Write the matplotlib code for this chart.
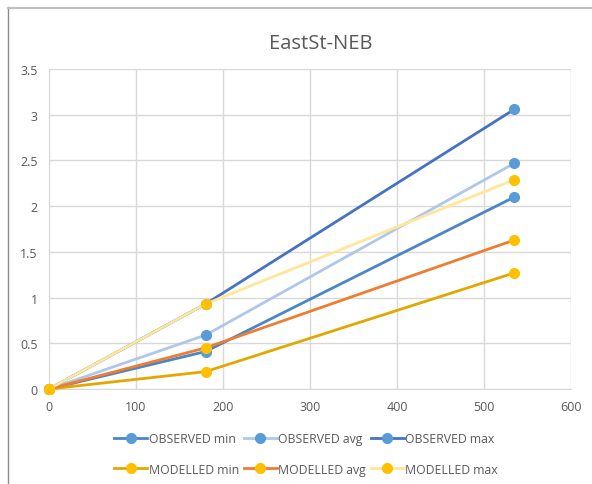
import matplotlib
matplotlib.use("Agg")
import matplotlib.pyplot as plt
from matplotlib.lines import Line2D

plt.rcParams['font.family'] = ['Open Sans', 'DejaVu Sans']

x = [0, 180, 535]
obs_min = [0, 0.41, 2.10]
obs_avg = [0, 0.59, 2.47]
obs_max = [0, 0.93, 3.06]
mod_min = [0, 0.19, 1.27]
mod_avg = [0, 0.45, 1.63]
mod_max = [0, 0.93, 2.29]

x_ticks = [0, 100, 200, 300, 400, 500, 600]
y_ticks = [0, 0.5, 1, 1.5, 2, 2.5, 3, 3.5]
y_tick_labels = ['0', '0.5', '1', '1.5', '2', '2.5', '3', '3.5']

series = [
    ("OBSERVED min", obs_min, "#4A86C5", "#5B9BD5"),
    ("OBSERVED avg", obs_avg, "#AFC7EA", "#5B9BD5"),
    ("OBSERVED max", obs_max, "#4472C4", "#5B9BD5"),
    ("MODELLED min", mod_min, "#E0A800", "#FFC000"),
    ("MODELLED avg", mod_avg, "#ED7D31", "#FFC000"),
    ("MODELLED max", mod_max, "#FFE699", "#FFC000"),
]

W, H = 592, 485
fig = plt.figure(figsize=(W / 100, H / 100), dpi=100)
ax = fig.add_axes([49 / W, 1 - 390 / H, (571 - 49) / W, (390 - 70) / H])

draw_order = [5, 4, 3, 1, 0, 2]
for i in draw_order:
    name, vals, lc, mc = series[i]
    ax.plot(x, vals, color=lc, lw=2.0, marker='o', ms=7,
            markerfacecolor=mc, markeredgecolor=mc, zorder=3 + i,
            clip_on=False)

ax.set_xlim(0, 600)
ax.set_ylim(0, 3.5)
ax.set_xticks(x_ticks)
ax.set_yticks(y_ticks)
ax.set_yticklabels(y_tick_labels)
ax.grid(True, color="#D9D9D9", lw=1)
ax.set_axisbelow(True)
for s in ['top', 'right']:
    ax.spines[s].set_visible(False)
for s in ['left', 'bottom']:
    ax.spines[s].set_color("#D9D9D9")
ax.tick_params(length=0, colors="#595959", labelsize=9, pad=8)

fig.text(321 / W, 1 - 44 / H, "EastSt-NEB", ha='center', va='center',
         fontsize=14.5, color="#595959")

handles = [Line2D([0], [0], color=lc, lw=2, marker='o', ms=7,
                  markerfacecolor=mc, markeredgecolor=mc)
           for _, _, lc, mc in series]
labels = [s[0] for s in series]
# legend fills column by column, so interleave to get row-wise order
order = [0, 3, 1, 4, 2, 5]
fig.legend([handles[i] for i in order], [labels[i] for i in order],
           ncol=3, loc='center',
           bbox_to_anchor=(306 / W, 1 - 455 / H), frameon=False,
           fontsize=8.8, labelcolor="#595959", handlelength=2.7,
           handletextpad=0.1, columnspacing=0.4, labelspacing=1.4)

# chart area border
fig.add_artist(Line2D([7.5 / W, 7.5 / W], [0, 1 - 8 / H], color="#8C8C8C",
                      lw=1, transform=fig.transFigure))
fig.add_artist(Line2D([7.5 / W, 1], [1 - 8.5 / H, 1 - 8.5 / H], color="#BFBFBF",
                      lw=1.5, transform=fig.transFigure))

fig.savefig("out.png", dpi=100)
